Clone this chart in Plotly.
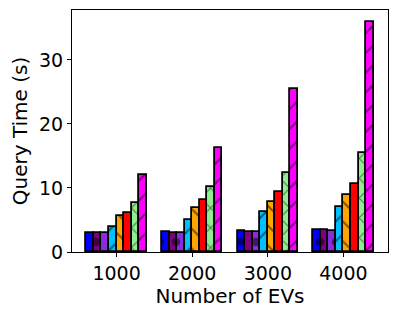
import plotly.graph_objects as go

categories = ["1000", "2000", "3000", "4000"]
series_names = ["M1", "M2", "M3", "M4", "M5", "M6", "M7", "M8"]
values = [
    [3.0, 3.1, 3.3, 3.4],
    [3.0, 3.0, 3.2, 3.4],
    [3.0, 3.0, 3.1, 3.3],
    [3.9, 5.0, 6.2, 7.0],
    [5.7, 6.8, 7.8, 8.9],
    [6.1, 8.2, 9.4, 10.6],
    [7.6, 10.2, 12.4, 15.5],
    [12.0, 16.3, 25.4, 36.0],
]
colors = ["#0000ff", "#800080", "#8a2be2", "#00bfff", "#ffa500", "#ff0000", "#90ee90", "#ff00ff"]
hatches = [".", ".", ".", "/", "\\", "", "x", "/"]

xs = list(range(len(categories)))
bw = 0.1

fig = go.Figure()
for i, (name, vals) in enumerate(zip(series_names, values)):
    shape = hatches[i]
    lined = shape in ("/", "\\", "x")
    pattern = dict(shape=shape, fgcolor="black", bgcolor=colors[i],
                   size=14 if lined else 16,
                   solidity=0.14 if lined else 0.22,
                   fillmode="overlay")
    fig.add_trace(go.Bar(
        x=xs, y=vals, name=name,
        width=bw, offset=-0.4 + i * bw,
        marker=dict(color=colors[i], line=dict(color="black", width=1.8),
                    pattern=pattern),
        showlegend=False,
    ))

tick_font = dict(family="DejaVu Sans", size=19, color="black")
title_font = dict(family="DejaVu Sans", size=20, color="black")
fig.update_layout(
    width=407, height=318,
    margin=dict(l=64, r=27, t=2, b=74),
    paper_bgcolor="white", plot_bgcolor="white",
    font=tick_font,
    bargap=0,
    xaxis=dict(
        range=[-0.59, 3.59], tickvals=xs, ticktext=categories,
        ticks="outside", ticklen=4, tickwidth=1, tickcolor="black",
        showline=True, linecolor="black", linewidth=1, mirror=True,
        showgrid=False, zeroline=False,
        title=dict(text="Number of EVs", standoff=4, font=title_font),
        tickfont=tick_font,
    ),
    yaxis=dict(
        range=[0, 37.8], tickvals=[0, 10, 20, 30],
        ticks="outside", ticklen=4, tickwidth=1, tickcolor="black",
        showline=True, linecolor="black", linewidth=1, mirror=True,
        showgrid=False, zeroline=False,
        title=dict(text="Query Time (s)", standoff=6, font=title_font),
        tickfont=tick_font,
    ),
)

fig.write_html("out.html")
